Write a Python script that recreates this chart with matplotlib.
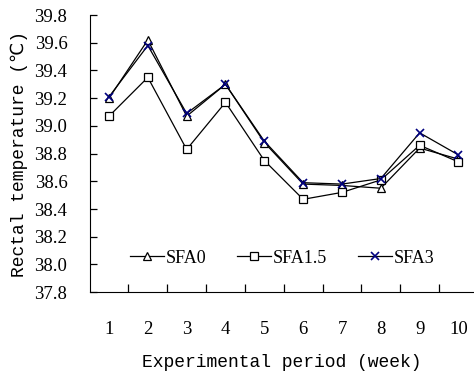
import matplotlib
matplotlib.use("Agg")
import matplotlib.pyplot as plt
import numpy as np

# data
weeks = [1, 2, 3, 4, 5, 6, 7, 8, 9, 10]
sfa0 = [39.20, 39.62, 39.07, 39.30, 38.88, 38.58, 38.57, 38.55, 38.84, 38.76]
sfa15 = [39.07, 39.35, 38.83, 39.17, 38.75, 38.47, 38.52, 38.61, 38.86, 38.74]
sfa3 = [39.21, 39.58, 39.09, 39.30, 38.89, 38.59, 38.58, 38.62, 38.95, 38.79]
yticks = [37.8, 38.0, 38.2, 38.4, 38.6, 38.8, 39.0, 39.2, 39.4, 39.6, 39.8]

plt.rcParams['font.family'] = ['Liberation Serif', 'DejaVu Serif']

fig = plt.figure(figsize=(4.74, 3.76), dpi=100)
ax = fig.add_axes([0.189, 0.223, 0.811, 0.737])

ax.plot(weeks, sfa0, color='black', lw=0.9, marker='^', ms=6,
        mfc='white', mec='black', mew=0.9, label='SFA0')
ax.plot(weeks, sfa15, color='black', lw=0.9, marker='s', ms=5.5,
        mfc='white', mec='black', mew=0.9, label='SFA1.5')
ax.plot(weeks, sfa3, color='black', lw=0.9, marker='x', ms=5.5,
        mec='#000080', mew=1.2, label='SFA3')

ax.set_xlim(0.5, 10.4)
ax.set_ylim(37.8, 39.8)
ax.spines['right'].set_color('none')
ax.spines['top'].set_color('none')

# x ticks sit between categories
ax.set_xticks(weeks)
ax.set_xticklabels([str(w) for w in weeks])
ax.set_xticks(np.arange(1.5, 10, 1), minor=True)
ax.tick_params(axis='x', which='major', length=0, pad=21, labelsize=13.5)
ax.tick_params(axis='x', which='minor', direction='in', length=6, width=0.9)
ax.set_yticks(yticks)
ax.set_yticklabels(['%.1f' % t for t in yticks])
ax.tick_params(axis='y', direction='in', length=5, width=0.9, pad=16, labelsize=13.5)

ax.set_xlabel('Experimental period (week)', fontsize=13, family='Liberation Mono', labelpad=11)
ax.set_ylabel('Rectal temperature (℃)', fontsize=13, family=['Liberation Mono', 'DejaVu Sans'], labelpad=5)

ax.legend(loc='center left', bbox_to_anchor=(0.104, 0.123), ncol=3, frameon=False,
          fontsize=13, handlelength=1.9, columnspacing=1.7, handletextpad=0.1,
          borderpad=0, borderaxespad=0)

fig.savefig('out.png', dpi=100)
